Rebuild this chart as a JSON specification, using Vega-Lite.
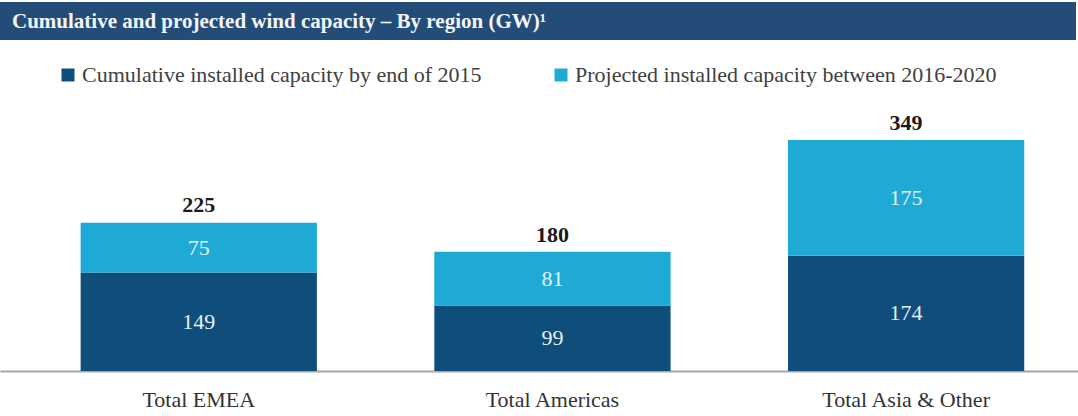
{
  "$schema": "https://vega.github.io/schema/vega-lite/v6.json",
  "padding": {"top": 2, "left": 0, "right": 0, "bottom": 0},
  "autosize": {"type": "pad"},
  "spacing": 53,
  "background": "white",
  "config": {
    "font": "Liberation Serif",
    "view": {"stroke": null}
  },
  "datasets": {
    "cap": [
      {"region": "Total EMEA", "series": "Cumulative installed capacity by end of 2015", "order": 1, "value": 149},
      {"region": "Total EMEA", "series": "Projected installed capacity between 2016-2020", "order": 2, "value": 75},
      {"region": "Total Americas", "series": "Cumulative installed capacity by end of 2015", "order": 1, "value": 99},
      {"region": "Total Americas", "series": "Projected installed capacity between 2016-2020", "order": 2, "value": 81},
      {"region": "Total Asia & Other", "series": "Cumulative installed capacity by end of 2015", "order": 1, "value": 174},
      {"region": "Total Asia & Other", "series": "Projected installed capacity between 2016-2020", "order": 2, "value": 175}
    ],
    "totals": [
      {"region": "Total EMEA", "total": 225},
      {"region": "Total Americas", "total": 180},
      {"region": "Total Asia & Other", "total": 349}
    ]
  },
  "vconcat": [
    {
      "width": 1076,
      "height": 38,
      "view": {"fill": "#244c78", "stroke": null},
      "title": {
        "text": "Cumulative and projected wind capacity – By region (GW)¹",
        "orient": "top",
        "anchor": "start",
        "frame": "group",
        "offset": -30,
        "dx": 12,
        "color": "#f2f6fa",
        "font": "Liberation Serif",
        "fontSize": 21,
        "fontWeight": "bold"
      },
      "data": {"values": [{"k": 1}]},
      "mark": {"type": "point", "opacity": 0},
      "encoding": {}
    },
    {
      "width": 1078,
      "height": 278,
      "data": {"name": "cap"},
      "encoding": {
        "x": {
          "field": "region",
          "type": "nominal",
          "sort": ["Total EMEA", "Total Americas", "Total Asia & Other"],
          "scale": {"paddingInner": 0.332, "paddingOuter": 0.19, "align": 0.6},
          "axis": {
            "title": null,
            "labelAngle": 0,
            "ticks": false,
            "labelPadding": 18,
            "labelFontSize": 22,
            "labelFont": "Liberation Serif",
            "labelColor": "#333333",
            "domainColor": "#a6a6a6",
            "domainWidth": 2
          }
        }
      },
      "layer": [
        {
          "mark": {"type": "bar"},
          "encoding": {
            "y": {
              "field": "value",
              "type": "quantitative",
              "stack": "zero",
              "scale": {"domain": [0, 420], "nice": false},
              "axis": null
            },
            "order": {"field": "order", "type": "quantitative"},
            "color": {
              "field": "series",
              "type": "nominal",
              "scale": {
                "domain": ["Cumulative installed capacity by end of 2015", "Projected installed capacity between 2016-2020"],
                "range": ["#0f4d7a", "#1eaad5"]
              },
              "legend": {
                "title": null,
                "orient": "none",
                "legendX": 57,
                "legendY": 62,
                "direction": "horizontal",
                "symbolType": "square",
                "symbolSize": 169,
                "symbolStrokeWidth": 0,
                "labelFont": "Liberation Serif",
                "labelFontSize": 22,
                "labelColor": "#404040",
                "labelOffset": 3,
                "labelLimit": 600,
                "columnPadding": 68
              }
            }
          }
        },
        {
          "transform": [
            {"stack": "value", "groupby": ["region"], "sort": [{"field": "order", "order": "ascending"}], "as": ["v0", "v1"]},
            {"fold": ["v0", "v1"], "as": ["edge", "pos"]}
          ],
          "mark": {"type": "text", "font": "Liberation Serif", "fontSize": 22, "color": "#e4f1f8", "baseline": "middle"},
          "encoding": {
            "y": {"field": "pos", "aggregate": "mean", "type": "quantitative"},
            "detail": {"field": "series", "type": "nominal"},
            "text": {"field": "value", "type": "quantitative"}
          }
        },
        {
          "data": {"name": "totals"},
          "mark": {"type": "text", "font": "Liberation Serif", "fontSize": 22, "fontWeight": "bold", "color": "#1a1a1a", "baseline": "alphabetic", "dy": -10},
          "encoding": {
            "y": {"field": "total", "type": "quantitative"},
            "text": {"field": "total", "type": "quantitative"}
          }
        }
      ]
    }
  ]
}
